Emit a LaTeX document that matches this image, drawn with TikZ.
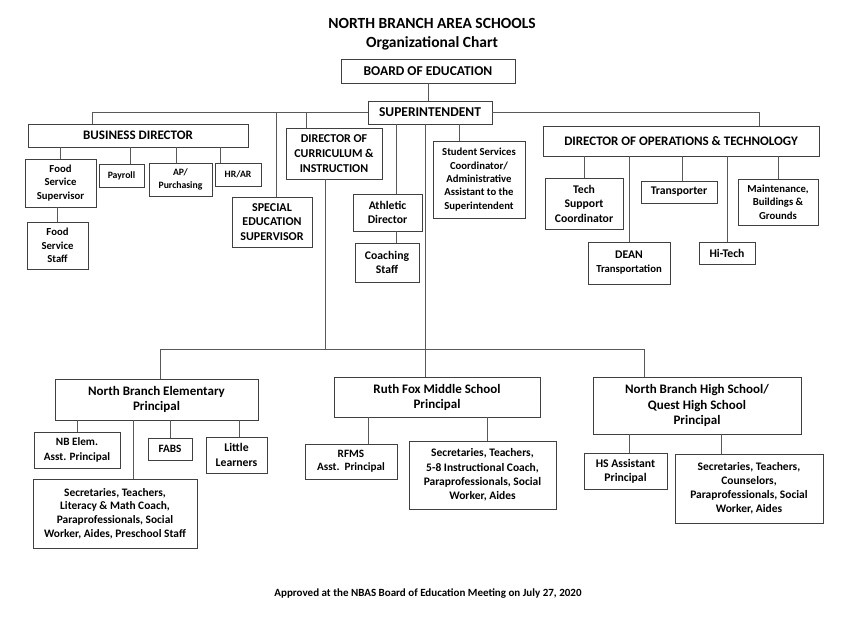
\documentclass[tikz,border=0pt]{standalone}
\usepackage{fontspec}
\setmainfont{Carlito}
\tikzset{
  box/.style={draw=black!75, line width=0.9pt, inner sep=0pt, align=center, text=black},
  ln/.style={draw=black!65, line width=0.9pt},
  ttl/.style={font={\bfseries\fontsize{15.5}{18}\selectfont}, inner sep=0pt}
}
\newcommand\bx[8]{\node[box,minimum width={(#4)-(#2)},minimum height={(#5)-(#3)},font={\bfseries\fontsize{#6}{#7}\selectfont}] (#1) at ({((#2)+(#4))/2},{((#3)+(#5))/2}) {#8};}
\newcommand\vup[2]{\path #1 coordinate (tmpc); \draw[ln] (tmpc) -- (tmpc |- #2);}
\begin{document}
\begin{tikzpicture}[x=1pt,y=-1pt]
\fill[white] (0,0) rectangle (850,617);
\useasboundingbox (0,0) rectangle (850,617);
% titles
\node[ttl] (t1) at (432,23) {NORTH BRANCH AREA SCHOOLS};
\node[ttl] (t2) at (432,43) {Organizational Chart};
% top
\bx{bd}{341}{59}{515}{83}{13.5}{15}{BOARD OF EDUCATION}
\bx{sup}{368}{101}{492}{124}{13.5}{15}{SUPERINTENDENT}
% business
\bx{busd}{28}{124}{248}{147}{13}{14.5}{BUSINESS DIRECTOR}
\bx{fss}{25}{159}{96}{207}{10.7}{13.3}{Food\\Service\\Supervisor}
\bx{pay}{99}{164}{144}{187}{9.7}{11.5}{Payroll}
\bx{ap}{149}{163}{212}{196}{9.7}{12.5}{AP/\\Purchasing}
\bx{hr}{215}{163}{261}{186}{9.7}{11.5}{HR/AR}
\bx{fsst}{27}{222}{88}{269}{10.7}{13.3}{Food\\Service\\Staff}
% middle
\bx{sped}{232}{197}{312}{247}{12}{14.5}{SPECIAL\\EDUCATION\\SUPERVISOR}
\bx{dci}{286}{128}{382}{179}{12}{14.7}{DIRECTOR OF\\CURRICULUM \&\\INSTRUCTION}
\bx{ath}{353}{194}{422}{231}{11.7}{14.5}{Athletic\\Director}
\bx{coach}{355}{243}{419}{282}{11.7}{14.5}{Coaching\\Staff}
\bx{ss}{433}{141}{525}{218}{10.7}{13.3}{Student Services\\Coordinator/\\Administrative\\Assistant to the\\Superintendent}
% operations
\bx{dot}{543}{126}{819}{156}{13}{14}{DIRECTOR OF OPERATIONS \& TECHNOLOGY}
\bx{tsc}{545}{178}{623}{229}{11.7}{14.5}{Tech\\Support\\Coordinator}
\bx{dean}{588}{242}{670}{284}{10.7}{14}{{\fontsize{11.7}{14}\selectfont DEAN}\\Transportation}
\bx{trans}{641}{181}{717}{203}{11.7}{14}{Transporter}
\bx{hit}{699}{242}{755}{264}{11.7}{14}{Hi-Tech}
\bx{maint}{738}{179}{818}{225}{10.7}{13.3}{Maintenance,\\Buildings \&\\Grounds}
% schools
\bx{nbe}{55}{379}{258}{420}{13}{15.5}{North Branch Elementary\\Principal}
\bx{nba}{34}{432}{120}{468}{11.2}{15}{NB Elem.\\Asst. Principal}
\bx{nbs}{33}{479}{197}{548}{11.4}{13.7}{Secretaries, Teachers,\\Literacy \& Math Coach,\\Paraprofessionals, Social\\Worker, Aides, Preschool Staff}
\bx{fabs}{148}{438}{192}{460}{11.2}{13}{FABS}
\bx{ll}{206}{437}{267}{473}{11.7}{15}{Little\\Learners}
\bx{rf}{334}{377}{540}{417}{13}{15}{Ruth Fox Middle School\\Principal}
\bx{rfa}{305}{444}{397}{479}{11.2}{13.3}{RFMS\\Asst.\ \ Principal}
\bx{rfs}{409}{441}{556}{509}{11.5}{14.2}{Secretaries, Teachers,\\5-8 Instructional Coach,\\Paraprofessionals, Social\\Worker, Aides}
\bx{hs}{593}{377}{801}{434}{13}{15.5}{North Branch High School/\\Quest High School\\Principal}
\bx{hsa}{584}{453}{667}{489}{11.7}{14.3}{HS Assistant\\Principal}
\bx{hss}{675}{454}{823}{523}{11.5}{14}{Secretaries, Teachers,\\Counselors,\\Paraprofessionals, Social\\Worker, Aides}
% footer
\node[font={\bfseries\fontsize{11}{13}\selectfont}, inner sep=0pt] (foot) at (428,594) {Approved at the NBAS Board of Education Meeting on July 27, 2020};
% connectors top
\draw[ln] (bd.south) -- (bd.south |- sup.north);
\draw[ln] (sup.west) -| ([xshift=65pt]busd.north west);
\draw[ln] ([xshift=45pt]sped.north west) |- (sup.west);
\draw[ln] ([xshift=21pt]dci.north west) |- (sup.west);
\draw[ln] (sup.east) -| ([xshift=217pt]dot.north west);
\vup{([xshift=44pt]ath.north west)}{sup.south}
\vup{([xshift=44pt]ath.south west)}{coach.north}
\vup{([xshift=27pt]ss.north west)}{sup.south}
\vup{([xshift=92pt]rf.north west)}{sup.south}
% school bus line
\coordinate (busy) at (0,349);
\path ([xshift=106pt]nbe.north west) coordinate (pe);
\path ([xshift=52pt]hs.north west) coordinate (pf);
\path ([xshift=40pt]dci.south west) coordinate (pg);
\draw[ln] (pe) |- (pf |- busy) -- (pf);
\draw[ln] (pg) -- (pg |- busy);
% operations children
\vup{(tsc.north)}{dot.south}
\vup{(dean.north)}{dot.south}
\vup{([xshift=42pt]trans.north west)}{dot.south}
\vup{(hit.north)}{dot.south}
\vup{(maint.north)}{dot.south}
% business children
\vup{(fss.north)}{busd.south}
\vup{([xshift=32pt]pay.north west)}{busd.south}
\vup{([xshift=28pt]ap.north west)}{busd.south}
\vup{([xshift=6pt]hr.north west)}{busd.south}
\vup{(fsst.north)}{fss.south}
% elementary children
\vup{(nba.north)}{nbe.south}
\vup{([xshift=101pt]nbs.north west)}{nbe.south}
\vup{(fabs.north)}{nbe.south}
\vup{([xshift=34pt]ll.north west)}{nbe.south}
% middle children
\vup{([xshift=64pt]rfa.north west)}{rf.south}
\vup{([xshift=79pt]rfs.north west)}{rf.south}
% high children
\vup{([xshift=46pt]hsa.north west)}{hs.south}
\vup{([xshift=47pt]hss.north west)}{hs.south}
\end{tikzpicture}
\end{document}
